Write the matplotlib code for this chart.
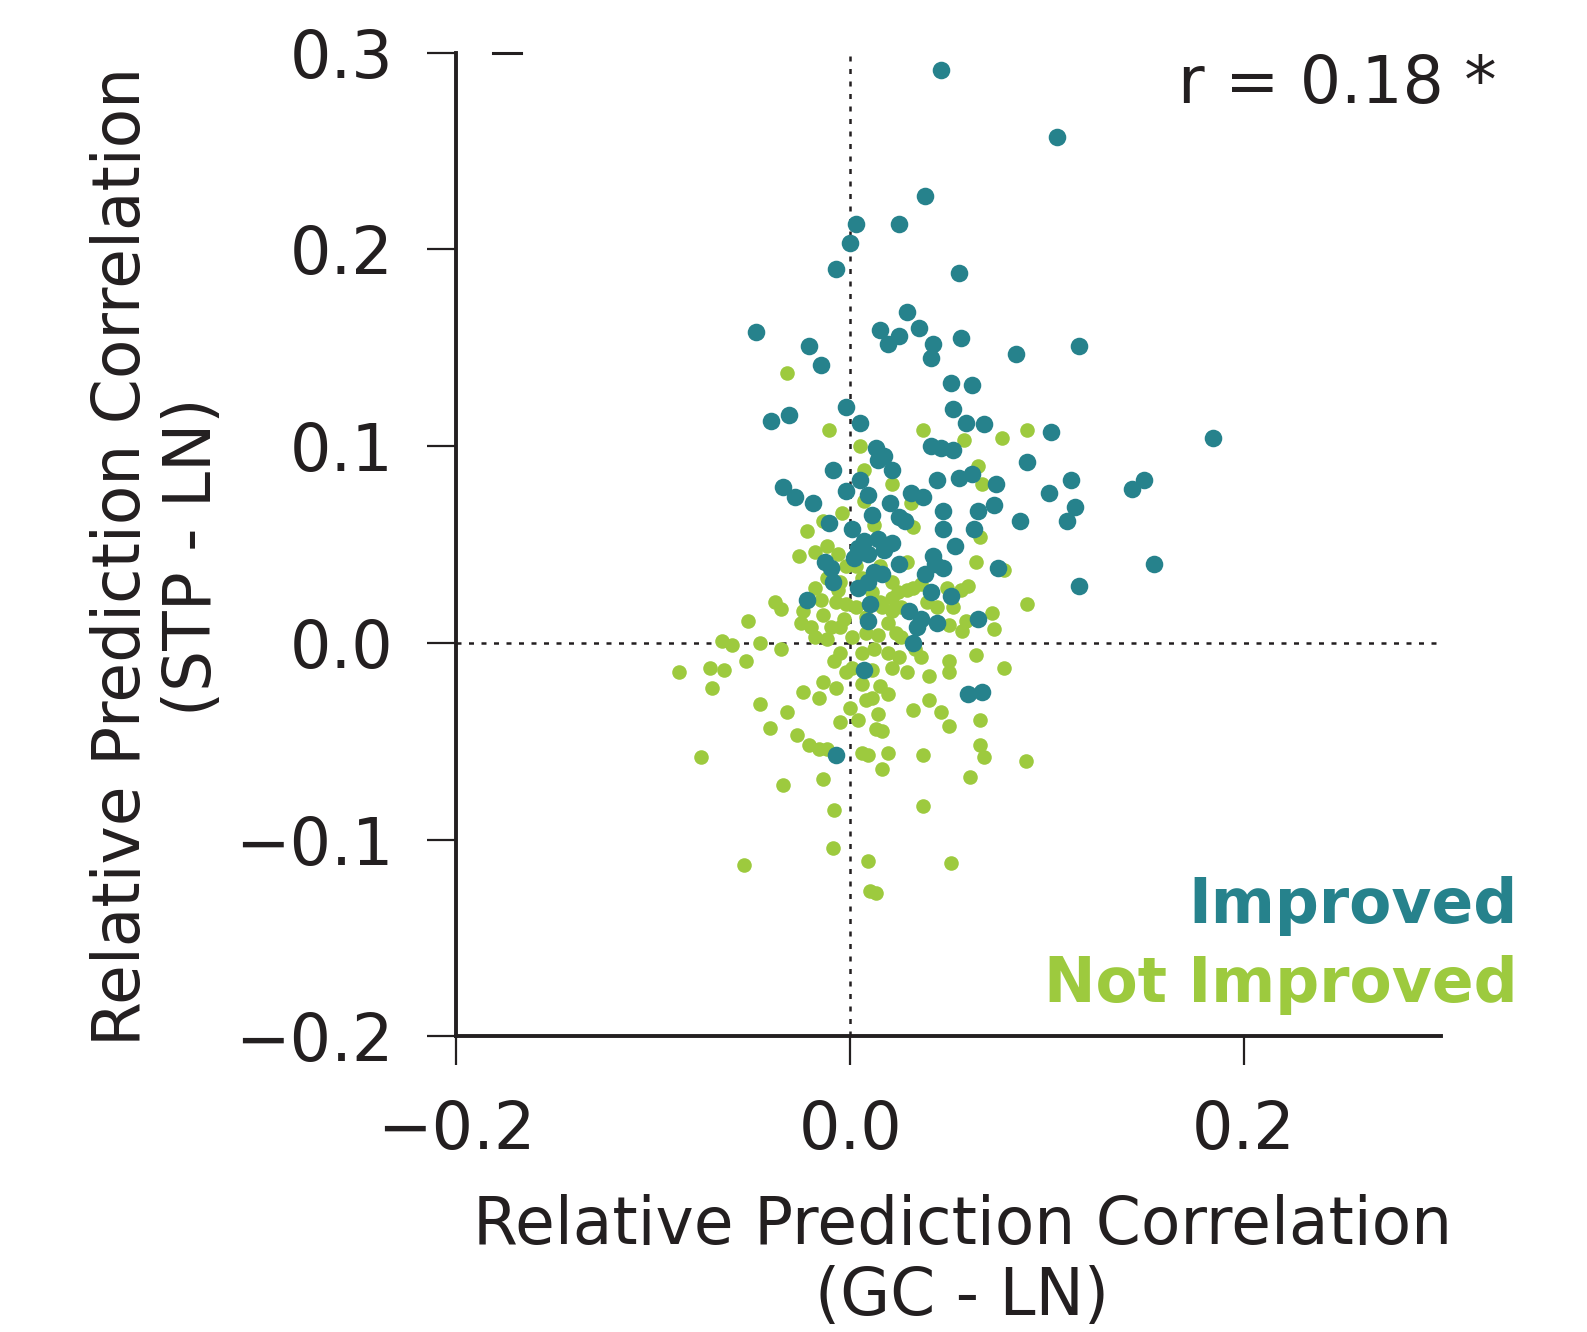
import matplotlib.pyplot as plt
from matplotlib.lines import Line2D

# Relative prediction correlation: (GC - LN) on x, (STP - LN) on y
improved_x = [
    0.046, 0.105, 0.038, 0.003, 0.025, 0.000, -0.007, 0.055, -0.048, 0.029,
    0.015, 0.025, 0.035, 0.019, 0.042, 0.056, 0.041, 0.084, 0.116, -0.021,
    -0.015, 0.051, 0.062, 0.052, -0.002, 0.005, 0.059, 0.068, -0.040, -0.031,
    0.102, 0.184, 0.041, 0.046, 0.052, 0.013, 0.017, 0.014, 0.021, -0.009,
    0.090, 0.112, 0.149, 0.143, 0.101, 0.062, 0.055, 0.044, 0.074, 0.005,
    -0.002, 0.009, -0.034, -0.028, -0.019, 0.020, 0.031, 0.037, 0.047, 0.065,
    0.073, 0.114, 0.110, 0.086, -0.011, 0.025, 0.028, 0.011, 0.063, 0.047,
    0.001, 0.007, 0.014, 0.021, 0.004, 0.009, 0.017, 0.002, 0.053, 0.042,
    -0.013, -0.010, 0.075, 0.154, 0.025, 0.043, 0.038, 0.047, 0.012, 0.016,
    0.009, -0.009, 0.004, 0.116, 0.041, 0.051, -0.022, 0.010, 0.030, 0.036,
    0.009, 0.065, 0.044, 0.034, 0.032, 0.007, 0.060, 0.067, -0.007,
]
improved_y = [
    0.291, 0.257, 0.227, 0.213, 0.213, 0.203, 0.190, 0.188, 0.158, 0.168,
    0.159, 0.156, 0.160, 0.152, 0.152, 0.155, 0.145, 0.147, 0.151, 0.151,
    0.141, 0.132, 0.131, 0.119, 0.120, 0.112, 0.112, 0.111, 0.113, 0.116,
    0.107, 0.104, 0.100, 0.099, 0.098, 0.099, 0.095, 0.093, 0.088, 0.088,
    0.092, 0.083, 0.083, 0.078, 0.076, 0.086, 0.084, 0.083, 0.081, 0.083,
    0.077, 0.075, 0.079, 0.074, 0.071, 0.071, 0.076, 0.074, 0.067, 0.067,
    0.070, 0.069, 0.062, 0.062, 0.061, 0.064, 0.062, 0.065, 0.058, 0.058,
    0.058, 0.052, 0.053, 0.051, 0.048, 0.045, 0.047, 0.043, 0.049, 0.044,
    0.041, 0.038, 0.038, 0.040, 0.040, 0.040, 0.035, 0.038, 0.036, 0.035,
    0.031, 0.031, 0.028, 0.029, 0.026, 0.024, 0.022, 0.020, 0.016, 0.012,
    0.011, 0.012, 0.010, 0.008, 0.000, -0.014, -0.026, -0.025, -0.057,
]

not_improved_x = [
    -0.032, -0.011, 0.037, 0.090, 0.077, 0.058, 0.005, 0.065, 0.007, 0.021,
    0.067, 0.031, 0.007, -0.004, -0.014, 0.012, 0.032, -0.022, 0.066, -0.012,
    -0.018, -0.026, -0.006, 0.015, 0.029, 0.064, 0.078, 0.021, 0.036, 0.060,
    -0.038, -0.035, -0.024, -0.015, -0.006, -0.002, 0.015, 0.024, 0.029, 0.049,
    0.056, 0.090, 0.072, 0.059, -0.052, -0.014, -0.003, 0.021, 0.050, 0.073,
    0.057, -0.065, -0.060, -0.046, -0.035, -0.018, -0.012, 0.008, 0.014, 0.023,
    0.033, -0.087, -0.071, -0.064, -0.053, -0.070, -0.008, 0.001, 0.011, 0.025,
    0.036, 0.050, 0.064, 0.078, -0.014, -0.007, 0.015, 0.029, 0.040, 0.050,
    -0.024, -0.016, 0.008, 0.019, 0.040, -0.046, -0.032, 0.000, 0.014, 0.032,
    0.046, 0.066, -0.005, 0.004, 0.013, 0.016, 0.050, -0.041, -0.027, -0.016,
    -0.012, 0.006, 0.009, 0.019, 0.037, 0.066, 0.068, 0.089, -0.076, -0.021,
    0.016, 0.061, -0.014, -0.034, -0.008, 0.037, -0.009, -0.054, 0.009, 0.051,
    0.010, 0.013,
    0.003, 0.006, 0.011, 0.016, 0.003, -0.005, 0.001, 0.006, 0.012, 0.019,
    -0.005, -0.010, 0.008, 0.021, 0.026, 0.019, 0.026, 0.006, 0.011, -0.002,
    0.021, 0.032, 0.039, 0.044, 0.052, -0.002, -0.005, -0.007, -0.012, -0.018,
    -0.020, -0.025,
]
not_improved_y = [
    0.137, 0.108, 0.108, 0.108, 0.104, 0.103, 0.100, 0.090, 0.088, 0.081,
    0.081, 0.071, 0.072, 0.066, 0.062, 0.060, 0.059, 0.057, 0.054, 0.049,
    0.046, 0.044, 0.045, 0.039, 0.041, 0.041, 0.037, 0.031, 0.030, 0.029,
    0.021, 0.017, 0.016, 0.022, 0.027, 0.020, 0.021, 0.026, 0.027, 0.028,
    0.027, 0.020, 0.015, 0.011, 0.011, 0.014, 0.012, 0.016, 0.009, 0.007,
    0.006, 0.001, -0.001, 0.000, -0.003, 0.003, 0.002, 0.005, 0.004, 0.005,
    -0.003, -0.015, -0.013, -0.014, -0.009, -0.023, -0.009, -0.013, -0.014, -0.007,
    -0.007, -0.009, -0.006, -0.013, -0.020, -0.023, -0.022, -0.015, -0.017, -0.015,
    -0.025, -0.028, -0.029, -0.026, -0.029, -0.031, -0.035, -0.033, -0.036, -0.034,
    -0.035, -0.039, -0.040, -0.039, -0.044, -0.045, -0.042, -0.043, -0.047, -0.054,
    -0.054, -0.056, -0.057, -0.056, -0.057, -0.052, -0.058, -0.060, -0.058, -0.052,
    -0.064, -0.068, -0.069, -0.072, -0.085, -0.083, -0.104, -0.113, -0.111, -0.112,
    -0.126, -0.127,
    0.039, 0.033, 0.026, 0.018, 0.018, 0.008, 0.003, -0.005, -0.003, -0.005,
    -0.005, 0.008, 0.013, 0.023, 0.018, 0.010, 0.003, -0.021, -0.028, -0.015,
    -0.013, 0.028, 0.021, 0.018, 0.018, 0.039, 0.031, 0.021, 0.033, 0.028,
    0.008, 0.010,
]

TEAL = "#26828C"
GREEN = "#9DCA3E"
INK = "#231F20"

plt.rcParams["font.family"] = "DejaVu Sans"
fig = plt.figure(figsize=(15.87, 13.32), dpi=100)
ax = fig.add_axes([0.2876, 0.2219, 0.6204, 0.7386])

ax.scatter(not_improved_x, not_improved_y, s=110, color=GREEN, linewidths=0, zorder=3)
ax.scatter(improved_x, improved_y, s=160, color=TEAL, linewidths=0, zorder=4)

ax.axvline(0, color=INK, ls=(0, (2, 3)), lw=1.8, zorder=2)
ax.axhline(0, color=INK, ls=(0, (2, 3)), lw=1.8, zorder=2)

ax.set_xlim(-0.2, 0.3)
ax.set_ylim(-0.2, 0.3)
ax.set_xticks([-0.2, 0.0, 0.2])
ax.set_yticks([-0.2, -0.1, 0.0, 0.1, 0.2, 0.3])
ax.spines["top"].set_visible(False)
ax.spines["right"].set_visible(False)
for side in ("left", "bottom"):
    ax.spines[side].set_linewidth(2.8)
    ax.spines[side].set_color(INK)
ax.tick_params(direction="out", length=21, width=1.6, pad=24,
               labelsize=47, colors=INK)

ax.set_xlabel("Relative Prediction Correlation\n(GC - LN)", fontsize=46.5,
              color=INK, linespacing=1.15)
ax.set_ylabel("Relative Prediction Correlation\n(STP - LN)", fontsize=46.5,
              color=INK, linespacing=1.15)
ax.xaxis.set_label_coords(0.514, -0.16)
ax.yaxis.set_label_coords(-0.235, 0.488)

ax.text(1.056, 0.949, "r = 0.18 *", transform=ax.transAxes, ha="right",
        va="baseline", fontsize=46.5, color=INK)
ax.text(1.078, 0.115, "Improved", transform=ax.transAxes, ha="right",
        va="baseline", fontsize=44.3, fontweight="bold", color=TEAL)
ax.text(1.078, 0.035, "Not Improved", transform=ax.transAxes, ha="right",
        va="baseline", fontsize=44.3, fontweight="bold", color=GREEN)

# stray dash near the top of the y axis
fig.add_artist(Line2D([0.3106, 0.3284], [0.9605, 0.9605], color=INK, lw=2.2))

fig.savefig("out.png", dpi=100)
